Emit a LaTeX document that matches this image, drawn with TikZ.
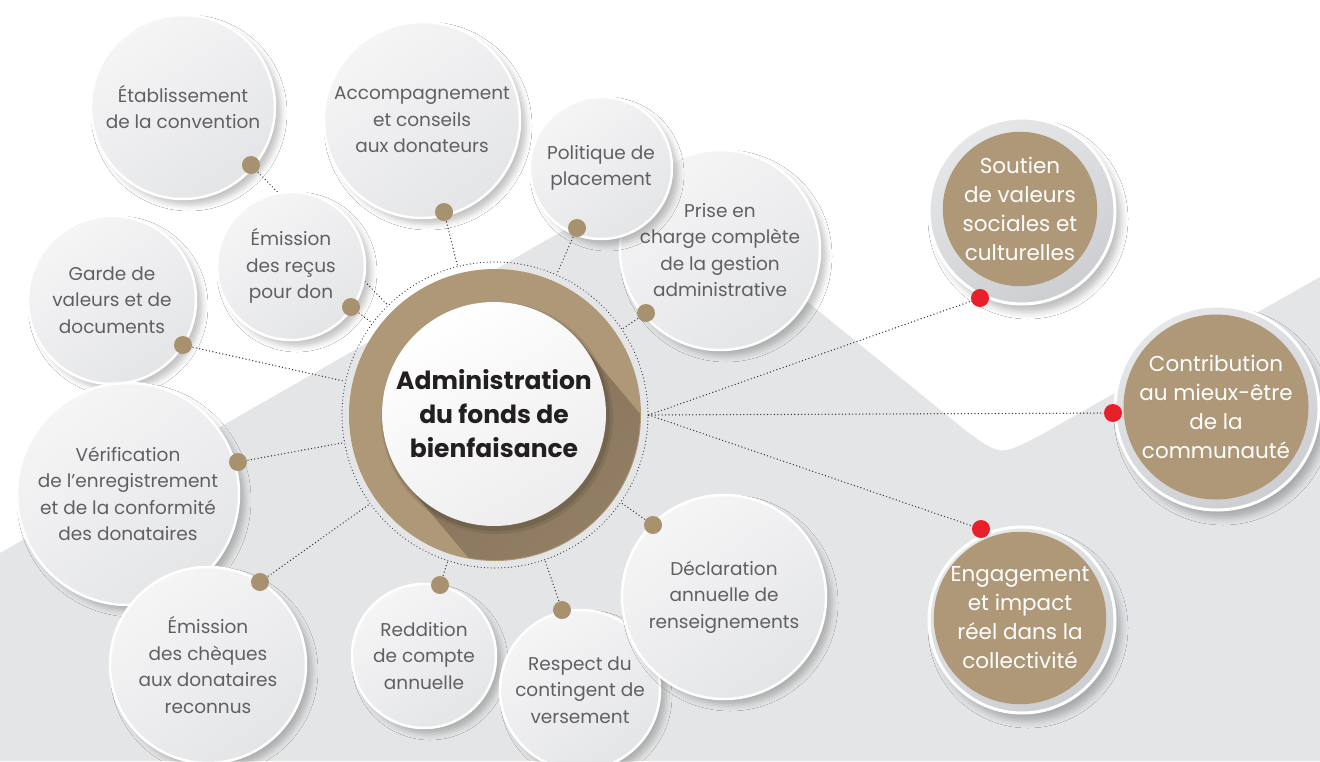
\documentclass[tikz,border=0pt]{standalone}
\usepackage{fontspec}
\setmainfont{Poppins}
\usetikzlibrary{shadows.blur,calc}
\definecolor{ringc}{HTML}{AF9878}
\definecolor{ringdark}{HTML}{84725A}
\definecolor{dotc}{HTML}{A8916F}
\definecolor{txt}{HTML}{606062}
\definecolor{bggray}{HTML}{E4E5E6}
\definecolor{cA}{HTML}{F5F5F6}
\definecolor{cB}{HTML}{E4E5E7}
\definecolor{redd}{HTML}{E8202A}
\definecolor{gA}{HTML}{E6E7E9}
\definecolor{gB}{HTML}{CDCED1}
\definecolor{coretxt}{HTML}{231F20}
\tikzset{
  bubble/.style={circle, inner sep=0pt, minimum size=#1, draw=white, line width=2.5pt,
    top color=cA, bottom color=cB, shading angle=35, align=center, text=txt,
    font=\fontsize{18.5}{26.5}\selectfont,
    blur shadow={shadow xshift=6pt, shadow yshift=-6pt, shadow blur radius=6pt, shadow opacity=24}},
  outcome/.style={circle, inner sep=0pt, minimum size=#1, draw=white, line width=3pt,
    top color=gA, bottom color=gB, shading angle=30,
    blur shadow={shadow xshift=6pt, shadow yshift=-8pt, shadow blur radius=7pt, shadow opacity=26}},
  outcore/.style={circle, inner sep=0pt, minimum size=#1, fill=ringc, align=center, text=white,
    font=\fontsize{21.5}{29}\selectfont},
  knob/.style={circle, inner sep=0pt, minimum size=18pt, fill=dotc},
  reddot/.style={circle, inner sep=0pt, minimum size=18pt, fill=redd},
  link/.style={line width=1.4pt, line cap=round, dash pattern=on 0pt off 3.4pt, black!80},
}
\begin{document}
\begin{tikzpicture}[x=1pt,y=-1pt]
\useasboundingbox (0,0) rectangle (1320,761);
\fill[white] (0,0) rectangle (1320,761);
\fill[bggray] (0,553) -- (655,178) -- (965,430) .. controls (1000,456) .. (1039,436) -- (1320,277) -- (1320,761) -- (0,761) -- cycle;

% central dotted ring
\node[circle, inner sep=0pt, minimum size=306pt, draw=black!80, line width=1.2pt, line cap=round, dash pattern=on 0pt off 3.4pt] (ring) at (495,415) {};

% connector end points (dots are placed on them later)
\coordinate (p1) at (251,165);
\coordinate (p2) at (444,212);
\coordinate (p3) at (646,313);
\coordinate (p4) at (577,228);
\coordinate (p5) at (351,307);
\coordinate (p6) at (183,345);
\coordinate (p7) at (238,462);
\coordinate (p8) at (260,582);
\coordinate (p9) at (440,585);
\coordinate (p10) at (562,610);
\coordinate (p11) at (653,525);
\coordinate (q1) at (980,298);
\coordinate (q2) at (1113,413);
\coordinate (q3) at (981,529);
\foreach \p in {p1,p2,p3,p4,p5,p6,p7,p8,p9,p10,p11}
  \draw[link] (\p) -- (ring);
\foreach \q in {q1,q2,q3}
  \draw[link] (ring.east) -- (\q);

% central element
\node[circle, inner sep=0pt, minimum size=292pt, fill=ringc] (disk) at (495,415) {};
\begin{scope}
  \clip (495,415) circle[radius=145pt];
  \shade[top color=ringdark, bottom color=ringc!92!black, shading angle=40]
    ($(494,414)+(-40:112)$) -- ++(50:320) -- ($(494,414)+(140:112)+(50:320)$) -- ($(494,414)+(140:112)$) -- cycle;
  \fill[black, opacity=0.10] (496,417) circle[radius=114pt];
  \fill[black, opacity=0.08] (497,418) circle[radius=116pt];
\end{scope}
\node[circle, inner sep=0pt, minimum size=224pt, top color=white, bottom color=black!7, shading angle=30,
  align=center, text=coretxt, font=\fontsize{25}{34}\selectfont\bfseries]
  (core) at (494,414) {Administration\\du fonds de\\bienfaisance};

% satellites (order = stacking)
\node[bubble=184pt] (c1) at (183,107) {Établissement\\de la convention};
\node[bubble=196pt] (c2) at (422,120) {Accompagnement\\et conseils\\aux donateurs};
\node[bubble=200pt] (c3) at (720,250) {Prise en\\charge complète\\de la gestion\\administrative};
\node[bubble=142pt] (c4) at (601,168) {Politique de\\placement};
\node[bubble=148pt] (c5) at (291,266) {Émission\\des reçus\\pour don};
\node[bubble=168pt] (c6) at (112,300) {Garde de\\valeurs et de\\documents};
\node[bubble=222pt] (c7) at (128,494) {Vérification\\de l’enregistrement\\et de la conformité\\des donataires};
\node[bubble=196pt] (c8) at (208,665) {Émission\\des chèques\\aux donataires\\reconnus};
\node[bubble=144pt] (c9) at (424,656) {Reddition\\de compte\\annuelle};
\node[bubble=160pt] (c10) at (580,690) {Respect du\\contingent de\\versement};
\node[bubble=204pt] (c11) at (724,597) {Déclaration\\annuelle de\\renseignements};

\foreach \p [count=\i] in {p1,p2,p3,p4,p5,p6,p7,p8,p9,p10,p11}
  \node[knob] (k\i) at (\p) {};

% outcomes
\node[outcome=186pt] (o1) at (1022,211) {};
\node[outcore=144pt] (s1) at (1020,209) {Soutien\\de valeurs\\sociales et\\culturelles};
\node[outcome=204pt] (o2) at (1217,408) {};
\node[outcore=166pt] (s2) at (1216,407) {Contribution\\au mieux-être\\de la\\communauté};
\node[outcome=186pt] (o3) at (1022,620) {};
\node[outcore=144pt] (s3) at (1020,618) {Engagement\\et impact\\réel dans la\\collectivité};

\foreach \q [count=\i] in {q1,q2,q3}
  \node[reddot] (r\i) at (\q) {};
\end{tikzpicture}
\end{document}
